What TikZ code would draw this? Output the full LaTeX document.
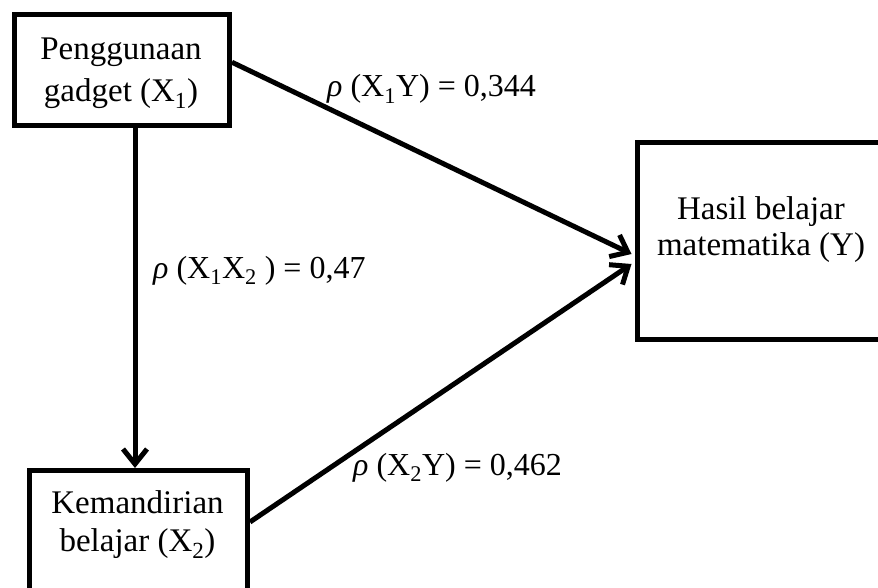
\documentclass[tikz,border=0pt]{standalone}
\usepackage{fontspec}
\setmainfont{Liberation Serif}
\usetikzlibrary{arrows.meta}
\begin{document}
\begin{tikzpicture}[x=1pt,y=-1pt,
  box/.style={draw, line width=5pt, inner sep=0pt},
  lbl/.style={anchor=base, inner sep=0pt, font=\fontsize{33}{40}\selectfont},
  rho/.style={anchor=base west, inner sep=0pt, font=\fontsize{32}{38}\selectfont},
  conn/.style={line width=5pt, line join=round, -{Straight Barb[length=15pt,width=24pt,line width=5pt]}}]
\clip (0,0) rectangle (878,588);
\node[box, minimum width=215pt, minimum height=110.5pt] (b1) at (122,70.25) {};
\node[box, minimum width=218pt, minimum height=140pt] (b2) at (138.5,540.5) {};
\node[box, minimum width=250pt, minimum height=197pt] (Y) at (762,241) {};
\node[lbl] (t1a) at (121,60) {Penggunaan};
\node[lbl] (t1b) at (121,101.5) {gadget (X\textsubscript{1})};
\node[lbl] (t2a) at (137.5,513) {Kemandirian};
\node[lbl] (t2b) at (137.5,551.5) {belajar (X\textsubscript{2})};
\node[lbl] (t3a) at (761,219) {Hasil belajar};
\node[lbl] (t3b) at (761,255) {matematika (Y)};
\node[rho] (r1) at (327,97) {\textit{ρ} (X\textsubscript{1}Y) = 0,344};
\node[rho] (r2) at (153,278) {\textit{ρ} (X\textsubscript{1}X\textsubscript{2} ) = 0,47};
\node[rho] (r3) at (353,475) {\textit{ρ} (X\textsubscript{2}Y) = 0,462};
\draw[conn] ([yshift=8pt]b1.east) -- ([xshift=-3pt,yshift=-13pt]Y.west);
\draw[conn] ([yshift=18.5pt]b2.east) -- ([xshift=-3pt,yshift=-23pt]Y.west);
\draw[conn] ([xshift=13pt]b1.south) -- ([xshift=-3.5pt]b2.north);
\end{tikzpicture}
\end{document}
